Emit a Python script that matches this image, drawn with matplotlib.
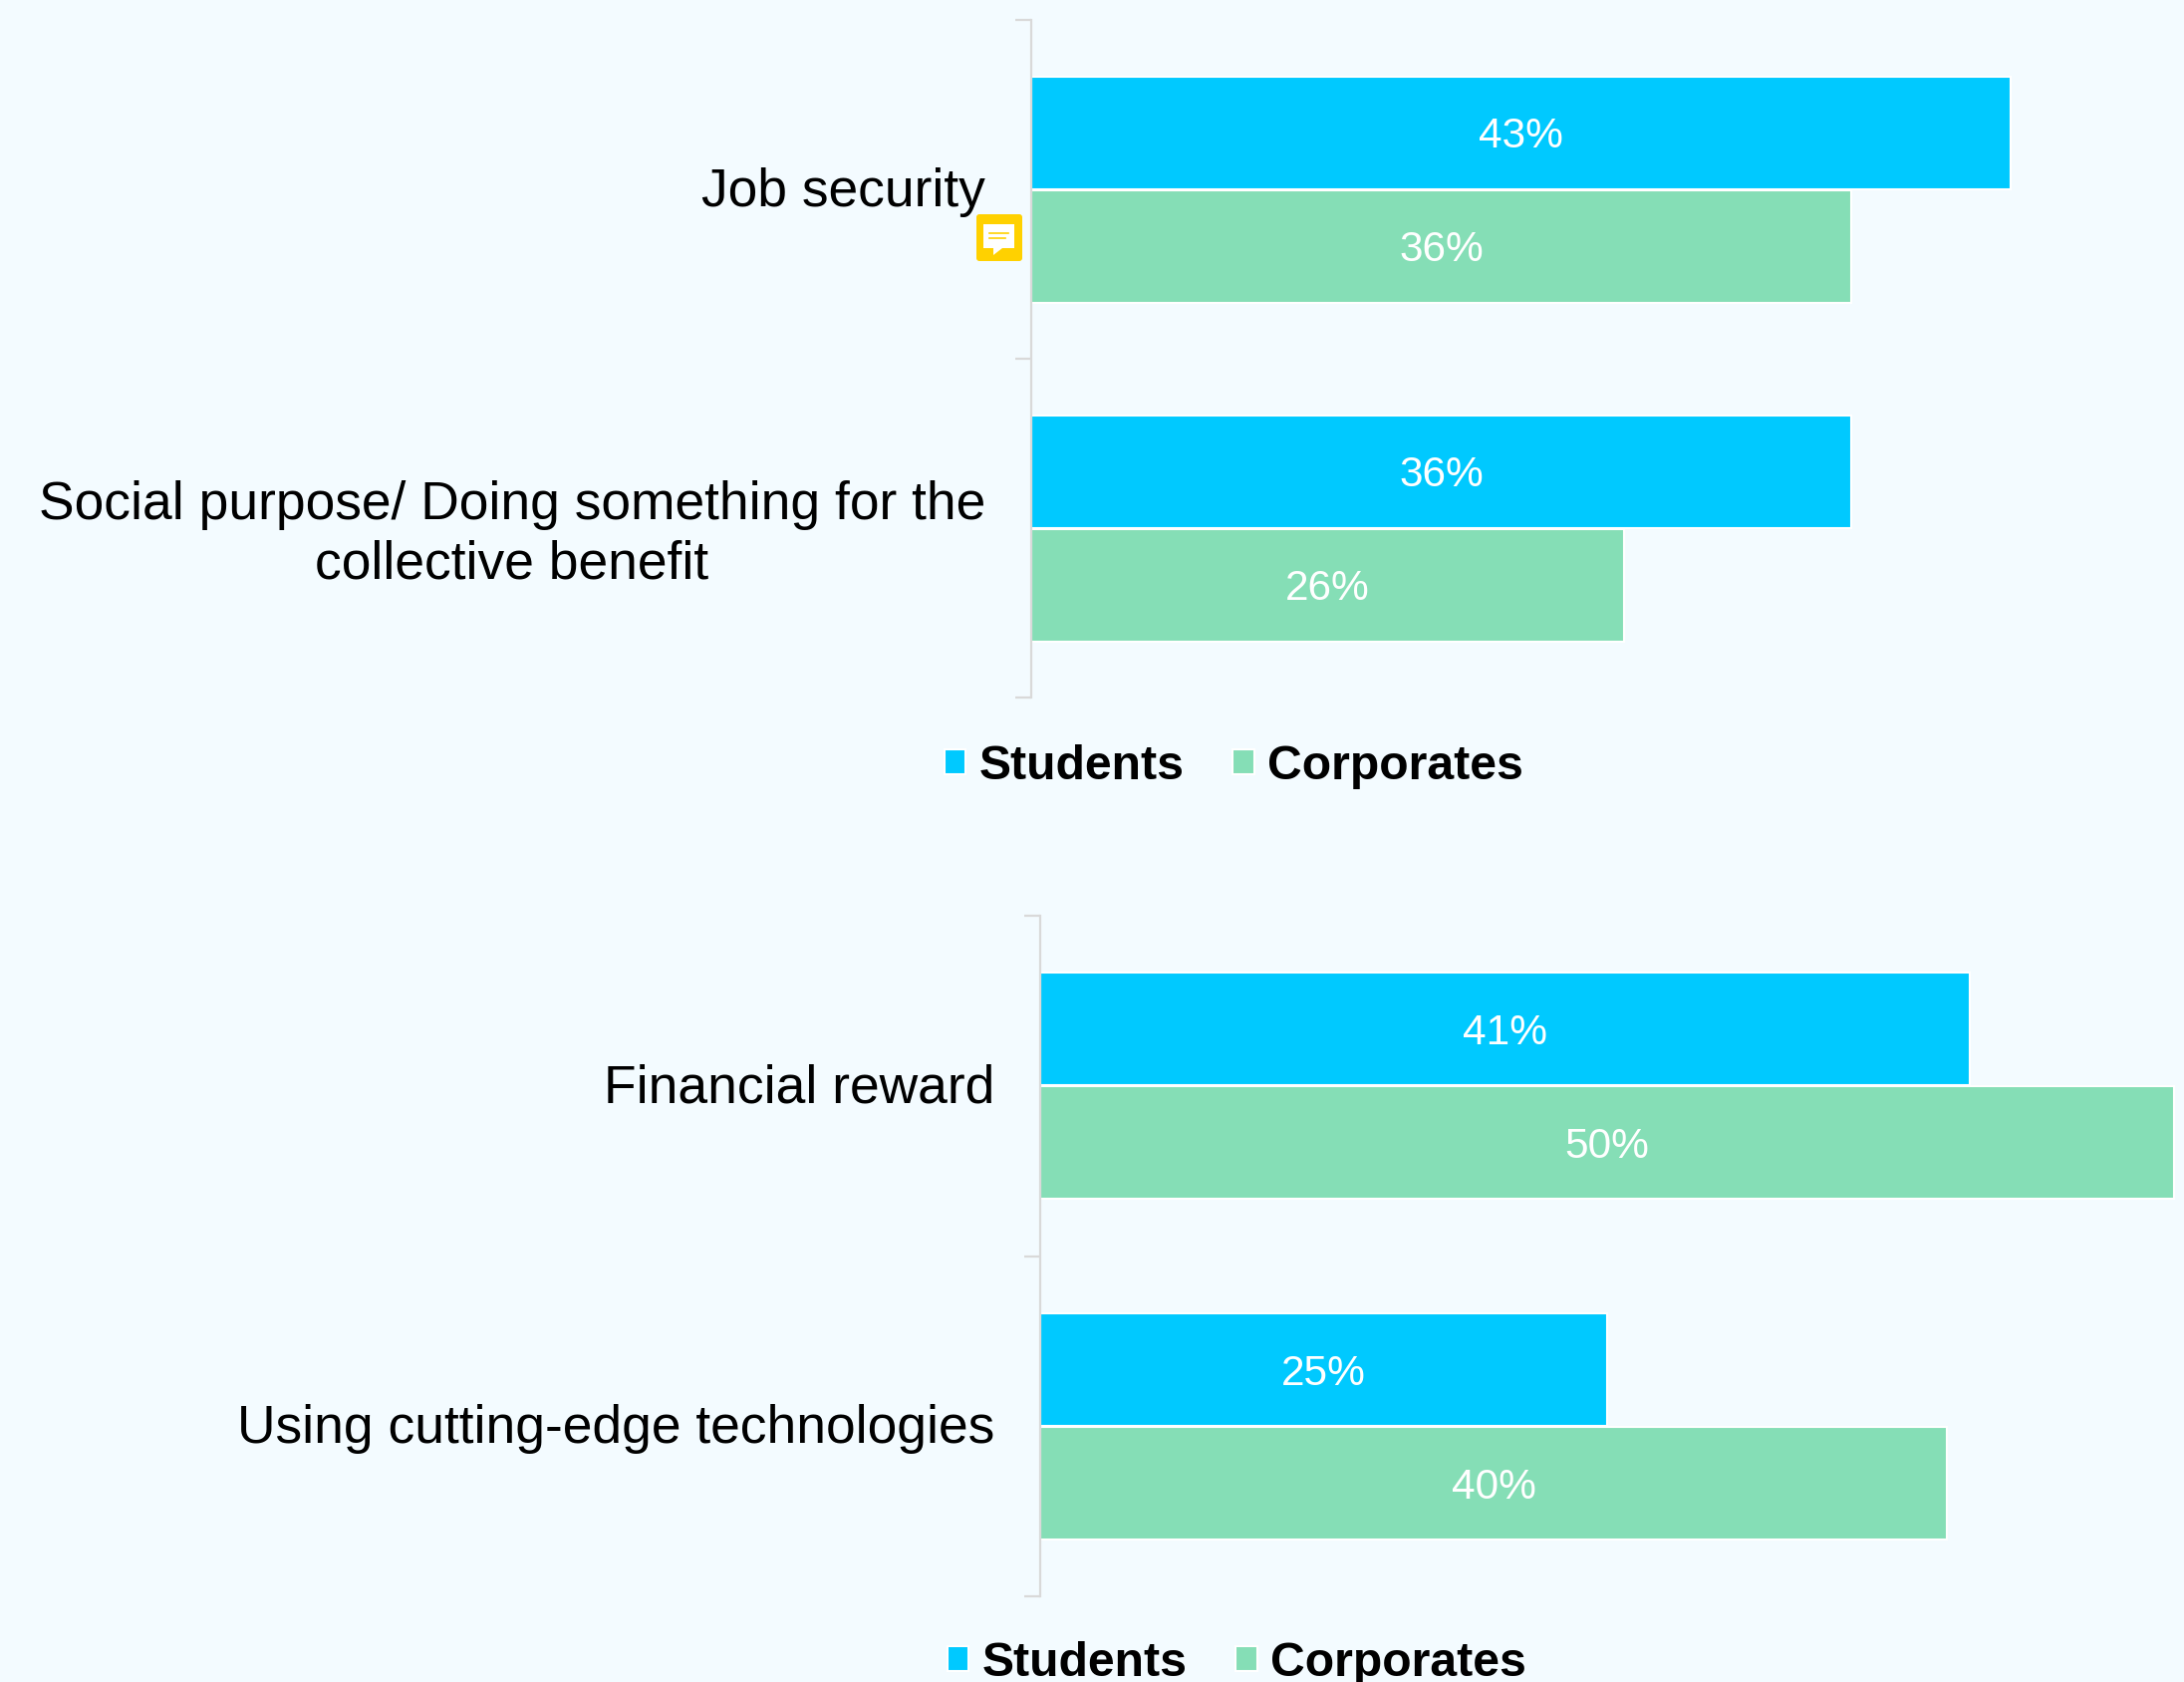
import matplotlib.pyplot as plt
from matplotlib.patches import FancyBboxPatch, Polygon
from matplotlib.transforms import Affine2D, ScaledTranslation

plt.rcParams['font.family'] = ['Liberation Sans', 'DejaVu Sans']

series = ['Students', 'Corporates']
top_labels = ['Job security', 'Social purpose/ Doing something for the\ncollective benefit']
top_students = [43, 36]
top_corporates = [36, 26]
bottom_labels = ['Financial reward', 'Using cutting-edge technologies']
bottom_students = [41, 25]
bottom_corporates = [50, 40]

W, H = 2192, 1688
BG = '#F3FBFF'
BLUE = '#00C9FF'
GREEN = '#85DEB6'
AXIS = '#D9D9D9'

fig = plt.figure(figsize=(W / 100, H / 100), dpi=100, facecolor=BG)
# pixel coordinates with the origin at the top left
px = Affine2D().scale(1 / W, -1 / H).translate(0, 1) + fig.transFigure


def panel(left, top, bottom, per_pct, labels, students, corporates, legend_x, legend_y):
    ax = fig.add_axes([left / W, 1 - bottom / H, (W - left) / W, (bottom - top) / H])
    ax.set_facecolor('none')
    slot = bottom - top
    h = 113 / (slot / 2)
    off = 57 / (slot / 2)
    cats = [0.5, 1.5]
    b1 = ax.barh([c - off for c in cats], students, height=h, color=BLUE,
                 edgecolor='white', linewidth=1.5, label=series[0])
    b2 = ax.barh([c + off for c in cats], corporates, height=h, color=GREEN,
                 edgecolor='white', linewidth=1.5, label=series[1])
    for bars in (b1, b2):
        texts = ax.bar_label(bars, labels=[f'{v}%' for v in bars.datavalues], label_type='center',
                             color='white', fontsize=30.5)
        for t in texts:
            t.xyann = (0, -3.2)

    ax.set_xlim(0, (W - left) / per_pct)
    ax.set_ylim(2, 0)
    ax.xaxis.set_visible(False)
    for s in ['top', 'right', 'bottom']:
        ax.spines[s].set_visible(False)
    ax.spines['left'].set_color(AXIS)
    ax.spines['left'].set_linewidth(1.6)
    ax.set_yticks([0, 1, 2])
    ax.set_yticklabels([])
    ax.tick_params(axis='y', which='major', length=11.5, width=1.6, color=AXIS)
    ax.set_yticks(cats, minor=True)
    ax.set_yticklabels(labels, minor=True, fontsize=38.4, multialignment='center',
                       color='black', linespacing=1.24)
    ax.tick_params(axis='y', which='minor', length=0, pad=33)
    # nudge the category labels up a little
    for t in ax.get_yticklabels(minor=True):
        t.set_transform(t.get_transform() + ScaledTranslation(0, 3 / 100, fig.dpi_scale_trans))

    ax.legend(loc='center left', bbox_to_anchor=(legend_x / W, 1 - legend_y / H),
              bbox_transform=fig.transFigure, ncol=2, frameon=False, borderpad=0, borderaxespad=0,
              prop={'weight': 'bold', 'size': 34.7}, handlelength=0.44, handleheight=0.44,
              handletextpad=0.27, columnspacing=1.02)
    return ax


panel(1035, 20, 700, 22.87, top_labels, top_students, top_corporates, 948, 769)
panel(1044, 919, 1602, 22.76, bottom_labels, bottom_students, bottom_corporates, 951, 1669)

# comment marker next to the first label
fig.add_artist(FancyBboxPatch((982, 217), 42, 43, boxstyle='round,pad=2,rounding_size=3',
                              transform=px, facecolor='#FFD100', edgecolor='none'))
fig.add_artist(Polygon([(987, 225), (1018, 225), (1018, 249), (1006, 249), (997, 256), (997, 249), (987, 249)],
                       closed=True, transform=px, facecolor='white', edgecolor='none'))
for y, x1 in [(234, 1012), (239, 1009)]:
    fig.add_artist(plt.Line2D([993, x1], [y, y], transform=px, color='#FFD100', linewidth=1.2))

plt.savefig('out.png', dpi=100, facecolor=BG)
